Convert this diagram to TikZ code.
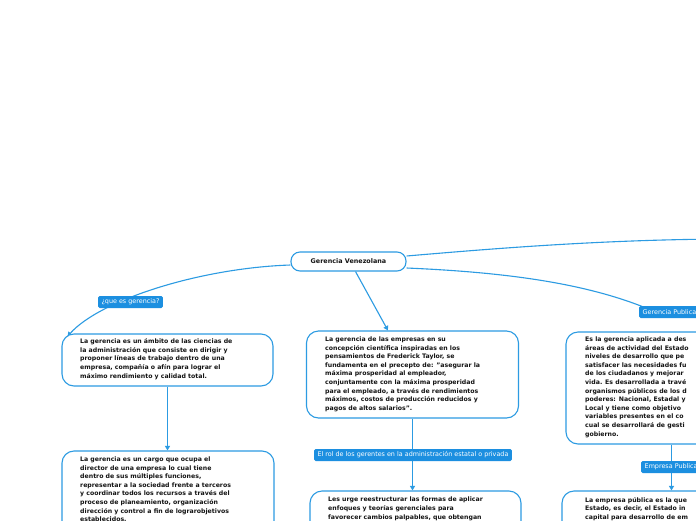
\documentclass[tikz,border=0pt]{standalone}
\usepackage{fontspec}
\setmainfont{DejaVu Sans}
\usetikzlibrary{arrows.meta,calc,backgrounds}
\definecolor{lineblue}{RGB}{44,155,226}
\definecolor{labelblue}{RGB}{28,143,224}
\definecolor{txtcol}{RGB}{20,20,20}
\tikzset{
 box/.style={draw=lineblue, line width=1.1pt, rounded corners=12pt, fill=white, inner sep=0pt},
 txt/.style={align=left, inner sep=0pt, text=txtcol, font=\fontsize{6.2}{8.6}\selectfont\bfseries, anchor=north west},
 lbl/.style={fill=labelblue, text=white, rounded corners=1.5pt, inner xsep=3.5pt, inner ysep=0pt, minimum height=12pt, font=\fontsize{6.4}{7}\selectfont},
 conn/.style={draw=lineblue, line width=1.1pt},
 arr/.style={conn, -{Triangle[width=5pt,length=4.5pt]}},
}
\begin{document}
\begin{tikzpicture}[x=1pt,y=-1pt]
\useasboundingbox (0,0) rectangle (696,520);
\clip (0,0) rectangle (696,520);

\node[box, rounded corners=9pt, minimum width=115pt, minimum height=19pt, text=txtcol, font=\fontsize{6.4}{7}\selectfont\bfseries] (c) at (348.5,261.5) {Gerencia Venezolana};

\node[box, minimum width=211pt, minimum height=52pt] (b1) at (167.5,360) {};
\node[box, minimum width=212pt, minimum height=87pt] (b2) at (412.5,374.5) {};
\node[box, minimum width=211pt, minimum height=112pt] (b3) at (671.5,388) {};
\node[box, minimum width=212pt, minimum height=87pt] (b4) at (168,494.5) {};
\node[box, minimum width=211pt, minimum height=60pt] (b5) at (415.5,521) {};
\node[box, minimum width=211pt, minimum height=60pt] (b6) at (667.5,521) {};

\node[txt] (t1) at (80,338.5) {La gerencia es un ámbito de las ciencias de\\la administración que consiste en dirigir y\\proponer líneas de trabajo dentro de una\\empresa, compañía o afín para lograr el\\máximo rendimiento y calidad total.};
\node[txt] (t2) at (325,336.5) {La gerencia de las empresas en su\\concepción científica inspiradas en los\\pensamientos de Frederick Taylor, se\\fundamenta en el precepto de: "asegurar la\\máxima prosperidad al empleador,\\conjuntamente con la máxima prosperidad\\para el empleado, a través de rendimientos\\máximos, costos de producción reducidos y\\pagos de altos salarios".};
\node[txt] (t3) at (585,336.5) {Es la gerencia aplicada a des\\áreas de actividad del Estado\\niveles de desarrollo que pe\\satisfacer las necesidades fu\\de los ciudadanos y mejorar\\vida. Es desarrollada a travé\\organismos públicos de los d\\poderes: Nacional, Estadal y\\Local y tiene como objetivo\\variables presentes en el co\\cual se desarrollará de gesti\\gobierno.};
\node[txt] (t4) at (80,456.5) {La gerencia es un cargo que ocupa el\\director de una empresa lo cual tiene\\dentro de sus múltiples funciones,\\representar a la sociedad frente a terceros\\y coordinar todos los recursos a través del\\proceso de planeamiento, organización\\dirección y control a fin de lograrobjetivos\\establecidos.};
\node[txt] (t5) at (328,497) {Les urge reestructurar las formas de aplicar\\enfoques y teorías gerenciales para\\favorecer cambios palpables, que obtengan};
\node[txt] (t6) at (585,497) {La empresa pública es la que\\Estado, es decir, el Estado in\\capital para desarrollo de em};

\node[lbl] (l1) at (130.5,302) {¿que es gerencia?};
\node[lbl] (l2) at (413,455) {El rol de los gerentes en la administración estatal o privada};
\node[lbl, anchor=west] (l3) at (639,312) {Gerencia Publica};
\node[lbl, anchor=west] (l4) at (641,467) {Empresa Publica};

\coordinate (R) at (720,239);

\begin{scope}[on background layer]
\fill[white] (0,0) rectangle (696,520);
\draw[arr] ($(c.west)+(0,3.5)$) .. controls (200,268) and (100,300) .. ($(b1.north west)+(6,3)$);
\draw[conn] ($(c.east)+(0,-5.5)$) .. controls (500,248) and (600,240) .. (R);
\draw[conn] ($(c.east)+(0,6.5)$) .. controls (500,272) and (580,282) .. ($(l3.north west)+(4,1)$);
\draw[arr] ($(c.south)+(7,0)$) -- ($(b2.north west)+(82,0)$);
\draw[arr] (b1.south) -- (b1.south |- b4.north);
\draw[arr] (b2.south) -- (b2.south |- b5.north);
\draw[arr] (b3.south) -- (b3.south |- b6.north);
\end{scope}
\end{tikzpicture}
\end{document}
